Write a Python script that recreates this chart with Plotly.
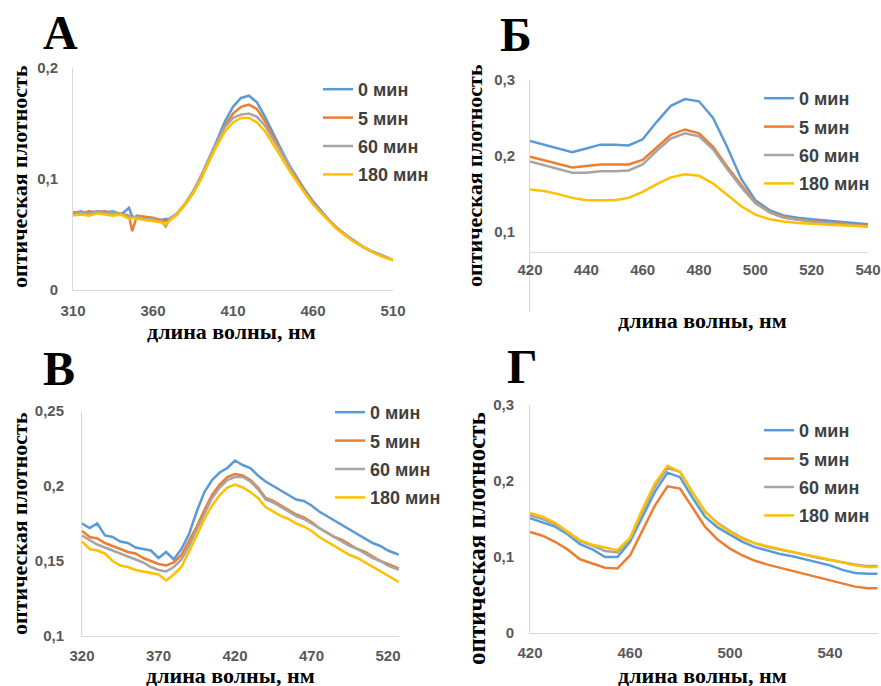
import plotly.graph_objects as go

W, H = 881, 686

# ---------------- data ----------------
series_names = ["0 мин", "5 мин", "60 мин", "180 мин"]
series_colors = ["#5B9BD5", "#ED7D31", "#A5A5A5", "#FFC000"]

# Panel А
A_wl = [310, 315, 320, 325, 330, 335, 340, 345, 347, 350, 355, 360, 365, 368, 370, 375, 380, 385,
        390, 395, 400, 405, 410, 415, 420, 425, 430, 435, 440, 445, 450, 455, 460, 465, 470, 475,
        480, 485, 490, 495, 500, 505, 510]
A_0 = [.069, .071, .069, .071, .070, .071, .068, .074, .066, .066, .065, .064, .063, .064, .064, .069,
       .077, .088, .101, .118, .135, .152, .165, .173, .175, .169, .156, .141, .127, .113, .101, .090,
       .080, .071, .063, .056, .050, .045, .040, .036, .033, .030, .027]
A_5 = [.070, .069, .071, .070, .071, .069, .069, .067, .053, .067, .066, .065, .063, .062, .063, .068,
       .077, .087, .100, .116, .132, .148, .159, .165, .167, .163, .152, .138, .125, .112, .100, .089,
       .079, .070, .063, .056, .050, .045, .040, .036, .033, .030, .027]
A_60 = [.068, .070, .069, .070, .069, .070, .068, .066, .065, .066, .064, .064, .062, .057, .063, .069,
        .078, .089, .103, .119, .134, .147, .155, .158, .159, .156, .148, .136, .124, .113, .099, .088,
        .078, .070, .062, .055, .050, .045, .040, .036, .033, .030, .027]
A_180 = [.067, .068, .067, .069, .068, .067, .068, .064, .065, .064, .063, .062, .061, .059, .062, .068,
         .077, .087, .100, .116, .130, .143, .151, .155, .155, .151, .143, .132, .120, .108, .097, .087,
         .077, .069, .062, .055, .049, .044, .040, .036, .032, .029, .027]
A_xticks = [310, 360, 410, 460, 510]
A_yticks = [0, 0.1, 0.2]

# Panel Б
B_wl = [420, 425, 430, 435, 440, 445, 450, 455, 460, 465, 470, 475, 480, 485, 490, 495, 500, 505,
        510, 515, 520, 525, 530, 535, 540]
B_0 = [.220, .215, .209, .205, .210, .215, .215, .214, .222, .245, .266, .275, .272, .250, .212, .170,
       .142, .129, .122, .119, .117, .115, .1135, .112, .1105]
B_5 = [.199, .194, .189, .185, .187, .189, .189, .189, .195, .212, .228, .235, .230, .212, .186, .162,
       .139, .127, .120, .117, .1145, .113, .1115, .110, .108]
B_60 = [.193, .188, .183, .178, .178, .180, .180, .181, .189, .207, .223, .230, .226, .209, .183, .159,
        .138, .126, .119, .116, .1135, .112, .1105, .109, .1075]
B_180 = [.156, .154, .150, .145, .142, .142, .142, .145, .153, .163, .172, .176, .174, .164, .149, .134,
         .123, .117, .114, .112, .111, .110, .109, .108, .107]
B_xticks = [420, 440, 460, 480, 500, 520, 540]
B_yticks = [0.1, 0.2, 0.3]

# Panel В
V_wl = [320, 325, 330, 335, 340, 345, 350, 355, 360, 365, 370, 375, 380, 385, 390, 395, 400, 405,
        410, 415, 420, 425, 430, 435, 440, 445, 450, 455, 460, 465, 470, 475, 480, 485, 490, 495,
        500, 505, 510, 515, 520, 525, 527]
V_0 = [.175, .172, .175, .167, .166, .163, .162, .159, .158, .157, .152, .156, .151, .158, .168, .183,
       .196, .204, .209, .212, .217, .214, .212, .207, .203, .200, .197, .194, .191, .190, .187, .183,
       .180, .177, .174, .171, .168, .165, .162, .160, .157, .155, .154]
V_5 = [.170, .166, .165, .162, .160, .158, .156, .155, .152, .150, .148, .147, .149, .154, .163, .173,
       .184, .194, .201, .206, .208, .207, .204, .199, .192, .190, .187, .184, .181, .179, .176, .172,
       .169, .166, .164, .161, .158, .156, .153, .150, .148, .146, .145]
V_60 = [.167, .164, .161, .159, .157, .155, .153, .151, .149, .146, .144, .143, .146, .151, .160, .171,
        .182, .192, .199, .204, .206, .206, .203, .198, .191, .189, .186, .183, .180, .178, .175, .172,
        .169, .166, .163, .160, .158, .155, .152, .150, .147, .145, .144]
V_180 = [.163, .158, .157, .155, .150, .147, .146, .144, .143, .142, .141, .137, .141, .146, .156, .167,
         .178, .187, .194, .199, .201, .199, .196, .192, .186, .183, .180, .178, .175, .173, .170, .166,
         .163, .160, .157, .154, .152, .149, .146, .143, .140, .137, .136]
V_xticks = [320, 370, 420, 470, 520]
V_yticks = [0.1, 0.15, 0.2, 0.25]

# Panel Г
G_wl = [420, 425, 430, 435, 440, 445, 450, 455, 460, 465, 470, 475, 480, 485, 490, 495, 500, 505,
        510, 515, 520, 525, 530, 535, 540, 545, 550, 555, 559]
G_0 = [.151, .146, .140, .130, .117, .110, .100, .100, .120, .153, .186, .211, .205, .178, .153, .139,
       .129, .120, .113, .108, .104, .101, .097, .093, .089, .083, .079, .078, .078]
G_5 = [.133, .128, .120, .110, .097, .092, .086, .085, .102, .135, .168, .193, .190, .165, .140, .123,
       .111, .102, .095, .090, .086, .082, .077, .074, .070, .065, .061, .059, .059]
G_60 = [.155, .150, .143, .132, .121, .115, .108, .106, .124, .160, .193, .217, .212, .185, .160, .145,
        .134, .125, .118, .113, .110, .106, .103, .099, .096, .092, .090, .088, .088]
G_180 = [.158, .153, .145, .133, .122, .116, .112, .109, .125, .163, .197, .220, .212, .185, .160, .144,
         .133, .124, .118, .114, .111, .107, .103, .100, .096, .092, .089, .087, .087]
G_xticks = [420, 460, 500, 540]
G_yticks = [0, 0.1, 0.2, 0.3]

panel_letters = ["А", "Б", "В", "Г"]
x_title = "длина волны, нм"
y_title = "оптическая плотность"

# ---------------- layout helpers ----------------
def fx(px):
    return px / W

def fy(py):
    return 1 - py / H

tick_font = dict(family="Liberation Sans, Arial", size=15, color="#595959", weight="bold")
legend_font = dict(family="Liberation Sans, Arial", size=18, color="#404040", weight="bold")
serif_bold = dict(family="Liberation Serif, Times New Roman", color="black", weight="bold")

panels = [
    # suffix, wl, series, xrange, yrange, xdomain(px), ydomain(px top,bottom), xticks, yticks, x/y label gaps
    ("", A_wl, [A_0, A_5, A_60, A_180], [310, 510], [0, 0.2], (73, 393), (68, 290), A_xticks, A_yticks, 7, 11),
    ("2", B_wl, [B_0, B_5, B_60, B_180], [420, 540], [-0.005, 0.3], (530, 868), (80, 312), B_xticks, B_yticks, 4, 11),
    ("3", V_wl, [V_0, V_5, V_60, V_180], [320, 527.2], [0.1, 0.25], (82, 399), (411, 636), V_xticks, V_yticks, 6, 14),
    ("4", G_wl, [G_0, G_5, G_60, G_180], [420, 559.2], [0, 0.3], (530, 878), (405, 633), G_xticks, G_yticks, 6, 12),
]

legend_pos = [(318, 71), (759, 80), (330, 394), (759, 412)]

fig = go.Figure()
layout = dict(
    width=W, height=H,
    margin=dict(l=0, r=0, t=0, b=0, autoexpand=False),
    paper_bgcolor="white", plot_bgcolor="white",
    separators=", ",
    showlegend=True,
)

for pi, (suf, wl, sers, xr, yr, xd, yd, xt, yt, xgap, ygap) in enumerate(panels):
    lg = "legend" + suf
    for si, ys in enumerate(sers):
        fig.add_trace(go.Scatter(
            x=wl, y=ys, mode="lines", name=series_names[si],
            line=dict(color=series_colors[si], width=2.5),
            xaxis="x" + suf, yaxis="y" + suf,
            legend=lg, legendgroup=f"p{pi}s{si}",
            hoverinfo="skip",
        ))
    xa = dict(
        domain=[fx(xd[0]), fx(xd[1])], range=xr, tickvals=xt,
        showline=True, linecolor="#d9d9d9", linewidth=1,
        showgrid=False, zeroline=False, ticks="", tickfont=tick_font,
        ticklabelstandoff=xgap, fixedrange=True, automargin=False,
    )
    ya = dict(
        domain=[fy(yd[1]), fy(yd[0])], range=yr, tickvals=yt,
        showline=True, linecolor="#d9d9d9", linewidth=1,
        showgrid=False, zeroline=False, ticks="", tickfont=tick_font,
        ticklabelstandoff=ygap, fixedrange=True, anchor="x" + suf, automargin=False,
    )
    if suf == "2":
        # horizontal axis crosses the vertical axis at ~0.074
        xa["anchor"] = "free"
        xa["position"] = fy(252)
    else:
        xa["anchor"] = "y" + suf
    layout["xaxis" + suf] = xa
    layout["yaxis" + suf] = ya
    lx, ly = legend_pos[pi]
    layout[lg] = dict(
        x=fx(lx), y=fy(ly), xref="container", yref="container",
        xanchor="left", yanchor="top",
        bgcolor="rgba(0,0,0,0)", font=legend_font,
        traceorder="grouped", tracegroupgap=2, itemwidth=30,
    )

annotations = []
letter_pos = [(60, 33), (516, 34), (59, 369), (522, 366)]
for (lx, ly), letter in zip(letter_pos, panel_letters):
    annotations.append(dict(
        x=fx(lx), y=fy(ly), xref="paper", yref="paper", text=letter, showarrow=False,
        xanchor="center", yanchor="middle", font=dict(size=48, **serif_bold),
    ))
xtitle_pos = [(231, 331), (702, 320), (230, 675), (702, 675)]
for (tx, ty) in xtitle_pos:
    annotations.append(dict(
        x=fx(tx), y=fy(ty), xref="paper", yref="paper", text=x_title, showarrow=False,
        xanchor="center", yanchor="middle", font=dict(size=22, **serif_bold),
    ))
ytitle_pos = [(19, 177, 22), (475, 175, 22), (19, 524, 22), (476, 539, 25)]
for (tx, ty, ts) in ytitle_pos:
    annotations.append(dict(
        x=fx(tx), y=fy(ty), xref="paper", yref="paper", text=y_title, showarrow=False,
        textangle=-90, xanchor="center", yanchor="middle", font=dict(size=ts, **serif_bold),
    ))
layout["annotations"] = annotations

fig.update_layout(**layout)
fig.write_html(
    "out.html",
    config={"displayModeBar": False, "staticPlot": True},
    post_script="document.body.style.margin='0';document.body.style.overflow='hidden';",
)
